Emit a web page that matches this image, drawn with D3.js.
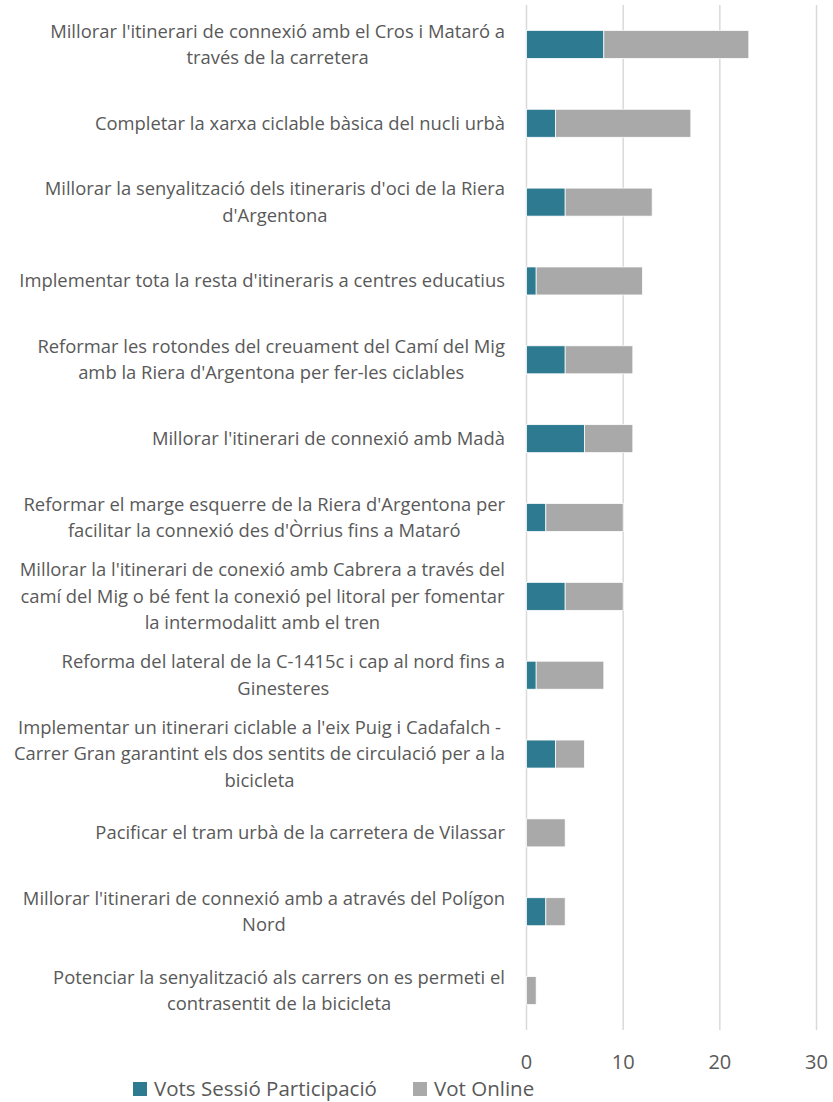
<!DOCTYPE html>
<html>
<head>
<meta charset="utf-8">
<script src="https://cdn.jsdelivr.net/npm/d3@7"></script>
<style>
  body { margin: 0; background: #fff; }
  svg text { font-family: "Open Sans", "Liberation Sans", sans-serif; fill: #595959; }
</style>
</head>
<body>
<svg id="chart"></svg>
<script>
const categories = [
  "Millorar l'itinerari de connexió amb el Cros i Mataró a\ntravés de la carretera",
  "Completar la xarxa ciclable bàsica del nucli urbà",
  "Millorar la senyalització dels itineraris d'oci de la Riera\nd'Argentona",
  "Implementar tota la resta d'itineraris a centres educatius",
  "Reformar les rotondes del creuament del Camí del Mig\namb la Riera d'Argentona per fer-les ciclables",
  "Millorar l'itinerari de connexió amb Madà",
  "Reformar el marge esquerre de la Riera d'Argentona per\nfacilitar la connexió des d'Òrrius fins a Mataró",
  "Millorar la l'itinerari de conexió amb Cabrera a través del\ncamí del Mig o bé fent la conexió pel litoral per fomentar\nla intermodalitt amb el tren",
  "Reforma del lateral de la C-1415c i cap al nord fins a\nGinesteres",
  "Implementar un itinerari ciclable a l'eix Puig i Cadafalch -\nCarrer Gran garantint els dos sentits de circulació per a la\nbicicleta",
  "Pacificar el tram urbà de la carretera de Vilassar",
  "Millorar l'itinerari de connexió amb a através del Polígon\nNord",
  "Potenciar la senyalització als carrers on es permeti el\ncontrasentit de la bicicleta"
];
const sessio = [8, 3, 4, 1, 4, 6, 2, 4, 1, 3, 0, 2, 0];
const online = [15, 14, 9, 11, 7, 5, 8, 6, 7, 3, 4, 2, 1];
const seriesNames = ["Vots Sessió Participació", "Vot Online"];
const colors = ["#2E7B91", "#A9A9A9"];
const xTicks = [0, 10, 20, 30];

const W = 833, H = 1102;
const LABEL_RIGHT = 505;
const svg = d3.select("#chart").attr("width", W).attr("height", H);

const x = d3.scaleLinear().domain([0, 30]).range([526.5, 816.5]);
const y = d3.scaleBand().domain(categories).range([5, 1030]).paddingInner(0.645).paddingOuter(0.3225);

// gridlines
svg.append("g")
  .selectAll("line")
  .data(xTicks)
  .join("line")
  .attr("x1", d => x(d)).attr("x2", d => x(d))
  .attr("y1", 5).attr("y2", 1030)
  .attr("stroke", "#D9D9D9")
  .attr("stroke-width", 1.5);

const rows = categories.map((c, i) => ({ cat: c, sessio: sessio[i], online: online[i] }));
const stack = d3.stack().keys(["sessio", "online"])(rows);

svg.append("g")
  .selectAll("g")
  .data(stack)
  .join("g")
  .attr("fill", (d, i) => colors[i])
  .selectAll("rect")
  .data(d => d)
  .join("rect")
  .attr("x", d => x(d[0]))
  .attr("width", d => x(d[1]) - x(d[0]))
  .attr("y", d => y(d.data.cat))
  .attr("height", y.bandwidth())
  .attr("stroke", "#fff")
  .attr("stroke-width", 0.75)
  .attr("display", d => d[1] - d[0] > 0 ? null : "none");

// category labels: block sits right-aligned, lines centred inside it
const lineH = 26.5;
const labels = svg.append("g")
  .selectAll("text")
  .data(categories)
  .join("text")
  .attr("text-anchor", "middle")
  .style("font-size", "18.4px");

labels.selectAll("tspan")
  .data(d => d.split("\n"))
  .join("tspan")
  .attr("x", 0)
  .attr("y", (d, i) => i * lineH)
  .attr("dy", "0.35em")
  .text(d => d);

labels.attr("transform", function (d) {
  const n = d.split("\n").length;
  const cy = y(d) + y.bandwidth() / 2 - (n - 1) * lineH / 2;
  const w = d3.max(d3.select(this).selectAll("tspan").nodes(), t => t.getComputedTextLength());
  return `translate(${LABEL_RIGHT - w / 2}, ${cy})`;
});

// x axis labels
svg.append("g")
  .selectAll("text")
  .data(xTicks)
  .join("text")
  .attr("x", d => x(d))
  .attr("y", 1062)
  .attr("dy", "0.35em")
  .attr("text-anchor", "middle")
  .style("font-size", "20px")
  .text(d => d);

// legend
const legend = svg.append("g")
  .selectAll("g")
  .data(seriesNames)
  .join("g")
  .attr("transform", (d, i) => `translate(${[133, 413][i]}, 1089)`);

legend.append("rect")
  .attr("x", 0).attr("y", -7)
  .attr("width", 14).attr("height", 14)
  .attr("fill", (d, i) => colors[i]);

legend.append("text")
  .attr("x", 21)
  .attr("dy", "0.35em")
  .style("font-size", "20.5px")
  .text(d => d);
</script>
</body>
</html>
